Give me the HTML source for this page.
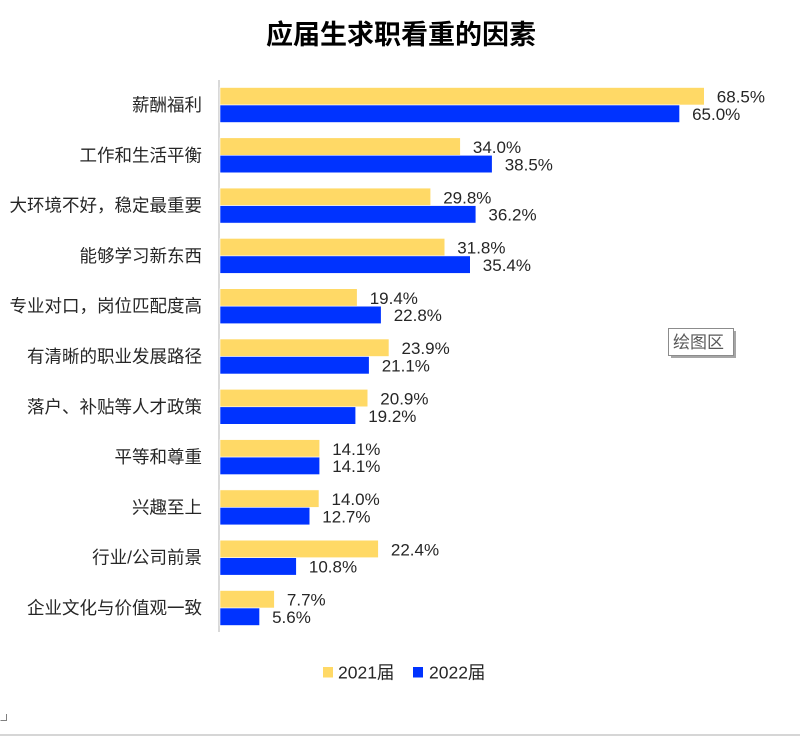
<!DOCTYPE html>
<html><head><meta charset="utf-8"><style>
html,body{margin:0;padding:0;background:#fff;}
svg{display:block;}
.cat{font-family:"Liberation Sans","Noto Sans CJK SC",sans-serif;font-size:17.5px;fill:#262626;}
.val{font-family:"Liberation Sans","Noto Sans CJK SC",sans-serif;font-size:17px;fill:#262626;}
</style></head><body>
<svg width="800" height="736" viewBox="0 0 800 736" xmlns="http://www.w3.org/2000/svg">
<rect width="800" height="736" fill="#fff"/>
<text x="401" y="44" text-anchor="middle" font-family="'Liberation Sans','Noto Sans CJK SC',sans-serif" font-size="27" font-weight="bold" fill="#000">应届生求职看重的因素</text>
<line x1="219" y1="80" x2="219" y2="632" stroke="#d9d9d9" stroke-width="2"/>
<g stroke="#fff" stroke-width="0.6">
<rect x="220" y="87.5" width="484.3" height="17.5" fill="#FFD966"/><rect x="220" y="105" width="459.6" height="17.5" fill="#0033FF"/>
<rect x="220" y="137.8" width="240.4" height="17.5" fill="#FFD966"/><rect x="220" y="155.3" width="272.2" height="17.5" fill="#0033FF"/>
<rect x="220" y="188.1" width="210.7" height="17.5" fill="#FFD966"/><rect x="220" y="205.6" width="255.9" height="17.5" fill="#0033FF"/>
<rect x="220" y="238.4" width="224.8" height="17.5" fill="#FFD966"/><rect x="220" y="255.9" width="250.3" height="17.5" fill="#0033FF"/>
<rect x="220" y="288.7" width="137.2" height="17.5" fill="#FFD966"/><rect x="220" y="306.2" width="161.2" height="17.5" fill="#0033FF"/>
<rect x="220" y="339.0" width="169.0" height="17.5" fill="#FFD966"/><rect x="220" y="356.5" width="149.2" height="17.5" fill="#0033FF"/>
<rect x="220" y="389.3" width="147.8" height="17.5" fill="#FFD966"/><rect x="220" y="406.8" width="135.7" height="17.5" fill="#0033FF"/>
<rect x="220" y="439.6" width="99.7" height="17.5" fill="#FFD966"/><rect x="220" y="457.1" width="99.7" height="17.5" fill="#0033FF"/>
<rect x="220" y="489.9" width="99.0" height="17.5" fill="#FFD966"/><rect x="220" y="507.4" width="89.8" height="17.5" fill="#0033FF"/>
<rect x="220" y="540.2" width="158.4" height="17.5" fill="#FFD966"/><rect x="220" y="557.7" width="76.4" height="17.5" fill="#0033FF"/>
<rect x="220" y="590.5" width="54.4" height="17.5" fill="#FFD966"/><rect x="220" y="608" width="39.6" height="17.5" fill="#0033FF"/>
</g>
<g class="cat" text-anchor="end">
<text x="202" y="111">薪酬福利</text>
<text x="202" y="161.3">工作和生活平衡</text>
<text x="202" y="211.6">大环境不好，稳定最重要</text>
<text x="202" y="261.9">能够学习新东西</text>
<text x="202" y="312.2">专业对口，岗位匹配度高</text>
<text x="202" y="362.5">有清晰的职业发展路径</text>
<text x="202" y="412.8">落户、补贴等人才政策</text>
<text x="202" y="463.1">平等和尊重</text>
<text x="202" y="513.4">兴趣至上</text>
<text x="202" y="563.7">行业/公司前景</text>
<text x="202" y="614">企业文化与价值观一致</text>
</g>
<g class="val">
<text x="716.8" y="102.7">68.5%</text><text x="692.1" y="120">65.0%</text>
<text x="472.9" y="153">34.0%</text><text x="504.7" y="170.3">38.5%</text>
<text x="443.2" y="203.3">29.8%</text><text x="488.4" y="220.6">36.2%</text>
<text x="457.3" y="253.6">31.8%</text><text x="482.8" y="270.9">35.4%</text>
<text x="369.7" y="303.9">19.4%</text><text x="393.7" y="321.2">22.8%</text>
<text x="401.5" y="354.2">23.9%</text><text x="381.7" y="371.5">21.1%</text>
<text x="380.3" y="404.5">20.9%</text><text x="368.2" y="421.8">19.2%</text>
<text x="332.2" y="454.8">14.1%</text><text x="332.2" y="472.1">14.1%</text>
<text x="331.5" y="505.1">14.0%</text><text x="322.3" y="522.4">12.7%</text>
<text x="390.9" y="555.4">22.4%</text><text x="308.9" y="572.7">10.8%</text>
<text x="286.9" y="605.7">7.7%</text><text x="272.1" y="623">5.6%</text>
</g>
<rect x="323" y="667" width="10" height="10.5" fill="#FFD966"/>
<text x="338" y="678.5" class="cat">2021届</text>
<rect x="413" y="667" width="10" height="10.5" fill="#0033FF"/>
<text x="429" y="678.5" class="cat">2022届</text>
<rect x="671" y="331" width="65" height="27" fill="#a6a6a6"/>
<rect x="668.5" y="328.5" width="65" height="27" fill="#fff" stroke="#8c8c8c" stroke-width="1"/>
<text x="673" y="348" font-family="'Liberation Sans','Noto Sans CJK SC',sans-serif" font-size="17" fill="#595959">绘图区</text>
<path d="M0.5 720.5 H6.5 V714" fill="none" stroke="#808080" stroke-width="1"/>
<line x1="0" y1="735" x2="800" y2="735" stroke="#c8c8c8" stroke-width="1.5"/>
</svg>
</body></html>
